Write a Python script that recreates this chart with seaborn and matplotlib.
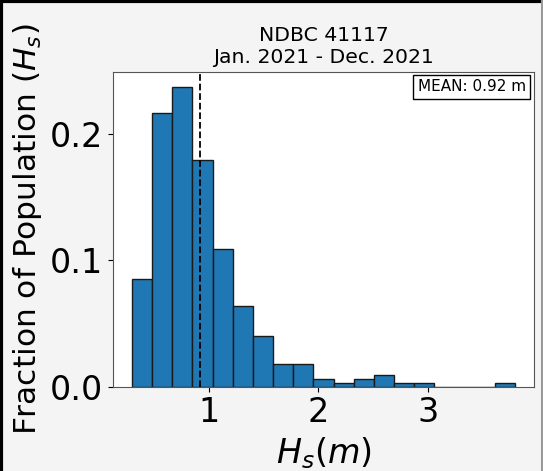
import numpy as np
import pandas as pd
import matplotlib
matplotlib.use("Agg")
import matplotlib.pyplot as plt
import seaborn as sns
from matplotlib.lines import Line2D

# Data
bin_start = 0.293
bin_stop = 3.80
n_bins = 19
fractions = [0.085, 0.2163, 0.2373, 0.1795, 0.1092, 0.0639, 0.0398, 0.0182,
             0.0182, 0.0061, 0.0029, 0.0061, 0.0090, 0.0029, 0.0029, 0.0,
             0.0, 0.0, 0.0029]
mean_hs = 0.92
title_lines = ["NDBC 41117", "Jan. 2021 - Dec. 2021"]

bin_edges = np.linspace(bin_start, bin_stop, n_bins + 1)
bin_centers = (bin_edges[:-1] + bin_edges[1:]) / 2
df = pd.DataFrame({"hs": bin_centers, "frac": fractions})

fig = plt.figure(figsize=(5.43, 4.71), dpi=100, facecolor="#f4f4f4")
ax = fig.add_axes([0.2075, 0.179, 0.7765, 0.669])
ax.set_facecolor("white")

sns.histplot(data=df, x="hs", weights="frac", bins=list(bin_edges), ax=ax,
             color="#1f77b4", edgecolor="#1a1a1a", linewidth=1.0, alpha=1.0)

ax.axvline(mean_hs, color="black", linestyle="--", linewidth=1.3)

ax.set_title("\n".join(title_lines), fontsize=14.7)
ax.set_xlabel(r"$H_s(m)$", fontsize=24)
ax.set_ylabel(r"Fraction of Population ($H_s$)", fontsize=22.5)
ax.tick_params(axis="both", labelsize=24)
ax.set_xticks([1, 2, 3])
ax.set_yticks([0.0, 0.1, 0.2])
for s in ax.spines.values():
    s.set_color("#555555")

ax.text(0.98, 0.975, f"MEAN: {mean_hs:.2f} m", transform=ax.transAxes,
        ha="right", va="top", fontsize=11,
        bbox=dict(boxstyle="square,pad=0.3", facecolor="white", edgecolor="black"))

# figure border (left/top black)
fig.add_artist(Line2D([0.002, 0.002], [0, 1], transform=fig.transFigure, color="black", linewidth=3))
fig.add_artist(Line2D([0, 1], [0.997, 0.997], transform=fig.transFigure, color="black", linewidth=3))
fig.add_artist(Line2D([0.998, 0.998], [0, 1], transform=fig.transFigure, color="#999999", linewidth=1.5))

fig.savefig("out.png", dpi=100, facecolor=fig.get_facecolor())
